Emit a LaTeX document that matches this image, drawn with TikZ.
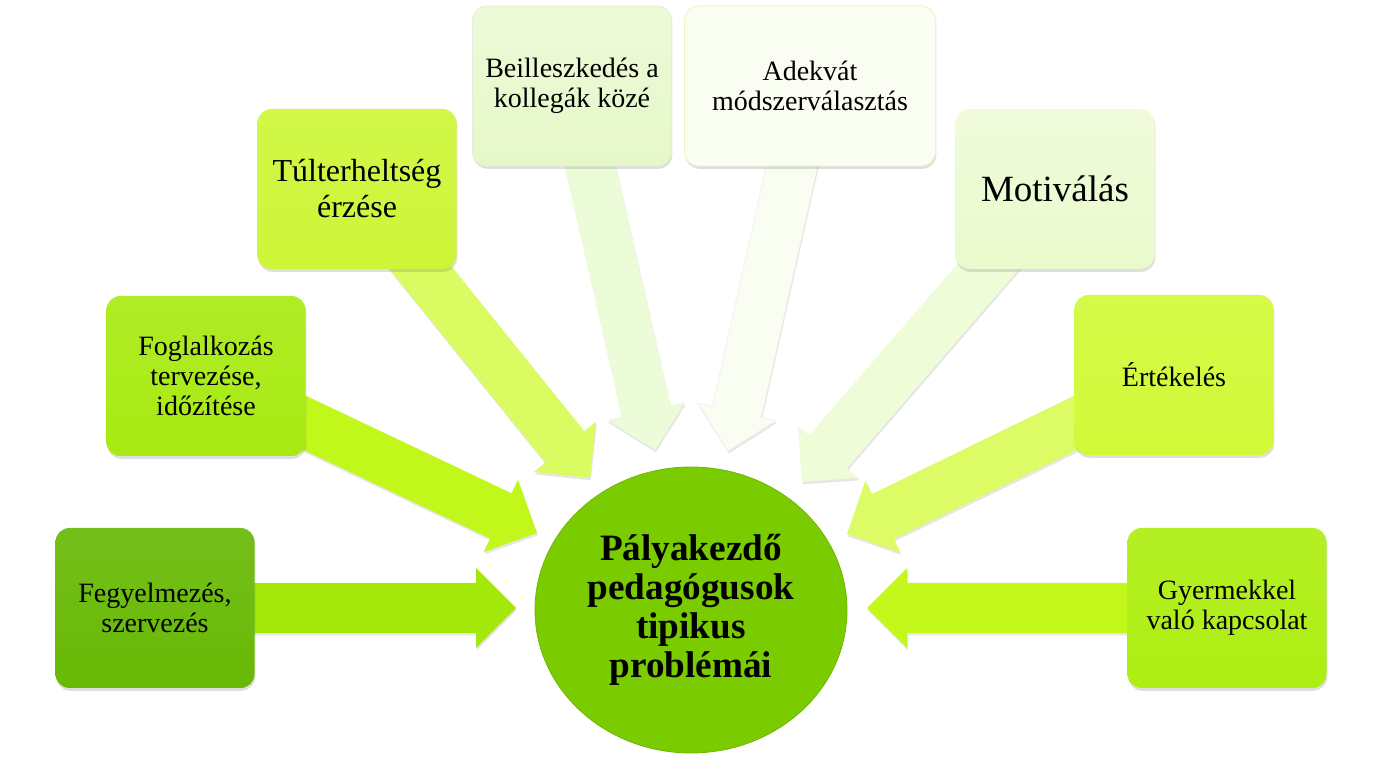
\documentclass[tikz,border=0pt]{standalone}
\usepackage{fontspec}
\setmainfont{Liberation Serif}
\usetikzlibrary{calc,shapes.geometric,shadows,backgrounds}
\definecolor{boxA}{HTML}{68B906}
\definecolor{boxB}{HTML}{A8EA12}
\definecolor{boxC}{HTML}{CEF638}
\definecolor{boxD}{HTML}{E6F8C8}
\definecolor{boxE}{HTML}{FAFDF2}
\definecolor{boxF}{HTML}{E9FACC}
\definecolor{boxG}{HTML}{D2FA38}
\definecolor{boxH}{HTML}{AEEE12}
\definecolor{arrA}{HTML}{A4E70A}
\definecolor{arrB}{HTML}{C2F71C}
\definecolor{arrC}{HTML}{DAFB62}
\definecolor{arrD}{HTML}{EDFCD8}
\definecolor{arrE}{HTML}{FAFDF2}
\definecolor{arrF}{HTML}{EEFCD8}
\definecolor{arrG}{HTML}{DCFB64}
\definecolor{arrH}{HTML}{C4F71A}
\definecolor{hub}{HTML}{7ACB00}
\begin{document}
\begin{tikzpicture}[x=0.5pt,y=-0.5pt,inner sep=0pt,outer sep=0pt,
tile/.style={rectangle,rounded corners=7pt,minimum width=99.5pt,minimum height=80pt,align=center,
  font=\fontsize{14}{15}\selectfont,drop shadow={shadow xshift=0.4pt,shadow yshift=-1.4pt,opacity=0.25}},
bigarrow/.style={drop shadow={shadow xshift=0.4pt,shadow yshift=-1.2pt,opacity=0.2},to path={
  ($(\tikztostart)!12.5pt!90:(\tikztotarget)$)
  -- ($(\tikztotarget)!20pt!(\tikztostart)!12.5pt!90:(\tikztotarget)$)
  -- ($(\tikztotarget)!20pt!(\tikztostart)!20pt!90:(\tikztotarget)$)
  -- (\tikztotarget)
  -- ($(\tikztotarget)!20pt!(\tikztostart)!20pt!-90:(\tikztotarget)$)
  -- ($(\tikztotarget)!20pt!(\tikztostart)!12.5pt!-90:(\tikztotarget)$)
  -- ($(\tikztostart)!12.5pt!-90:(\tikztotarget)$) -- cycle}}]
\useasboundingbox (0,0) rectangle (1383,764);
% centre
\draw (691,610) node[ellipse,fill=hub,draw=hub!90!black,minimum width=156pt,minimum height=143pt,align=center,
  font=\bfseries\fontsize{18.6}{19.5}\selectfont] (centre) {Pályakezdő\\pedagógusok\\tipikus\\problémái};
% problem tiles
\draw (155,608) node[tile,top color=boxA!92!white,bottom color=boxA] (fegyelem) {Fegyelmezés,\\szervezés};
\draw (206,376) node[tile,top color=boxB!92!white,bottom color=boxB] (foglalkozas) {Foglalkozás\\tervezése,\\időzítése};
\draw (357,189) node[tile,top color=boxC!92!white,bottom color=boxC,font=\fontsize{16}{18}\selectfont] (tulterhelt) {Túlterheltség\\érzése};
\draw (572,86) node[tile,top color=boxD!70!white,bottom color=boxD,draw=boxD!85!black!40] (beilleszkedes) {Beilleszkedés a\\kollegák közé};
\draw (810,86) node[tile,fill=boxE,draw=boxD,minimum width=125.5pt] (adekvat) {Adekvát\\módszerválasztás};
\draw (1055,189) node[tile,top color=boxF!70!white,bottom color=boxF,font=\fontsize{18.5}{20}\selectfont] (motivalas) {Motiválás};
\draw (1174,375) node[tile,top color=boxG!92!white,bottom color=boxG] (ertekeles) {Értékelés};
\draw (1227,608) node[tile,top color=boxH!92!white,bottom color=boxH] (gyermek) {Gyermekkel\\való kapcsolat};
% arrow tips
\coordinate (tipA) at (516,608);
\coordinate (tipB) at (537,533);
\coordinate (tipC) at (590,478);
\coordinate (tipD) at (655,450);
\coordinate (tipE) at (728,451);
\coordinate (tipF) at (802,482);
\coordinate (tipG) at (847,534);
\coordinate (tipH) at (867,608);
\begin{scope}[on background layer]
\path[bigarrow,fill=arrA] (fegyelem) to (tipA);
\path[bigarrow,fill=arrB] (foglalkozas) to (tipB);
\path[bigarrow,fill=arrC] (tulterhelt) to (tipC);
\path[bigarrow,fill=arrD] (beilleszkedes) to (tipD);
\path[bigarrow,fill=arrE,draw=arrD!80!gray!40,thin] (adekvat) to (tipE);
\path[bigarrow,fill=arrF] (motivalas) to (tipF);
\path[bigarrow,fill=arrG] (ertekeles) to (tipG);
\path[bigarrow,fill=arrH] (gyermek) to (tipH);
\end{scope}
\end{tikzpicture}
\end{document}
